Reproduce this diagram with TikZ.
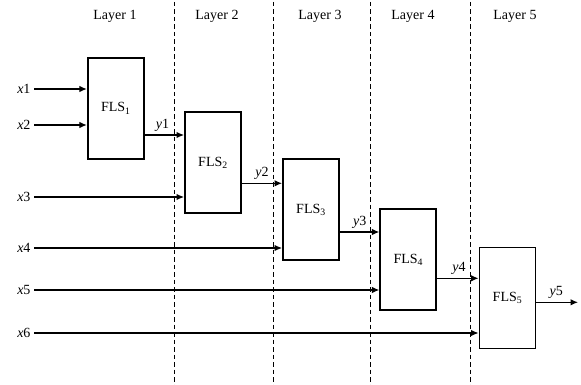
\documentclass[tikz,border=0pt]{standalone}
\usepackage{fontspec}
\setmainfont{Liberation Serif}
\usetikzlibrary{arrows.meta}

\tikzset{
  flsbox/.style={draw, line width=1.9pt, minimum width=56pt, minimum height=101pt, inner sep=0pt},
  sig/.style={line width=1.2pt, -{Latex[length=7.5pt,width=6.5pt]}},
  sep/.style={dashed, line width=1pt, dash pattern=on 4.5pt off 3pt},
  lbl/.style={font=\fontsize{14}{16}\selectfont}
}

\begin{document}
\begin{tikzpicture}[x=1pt,y=-1pt,lbl]
  \useasboundingbox (0,0) rectangle (581,385);

  % layer separators
  \foreach \sx in {174.7,273,370,470.7}
    \draw[sep] (\sx,2) -- (\sx,385);

  % layer titles
  \node at (115,16) {Layer 1};
  \node at (217,16) {Layer 2};
  \node at (320,16) {Layer 3};
  \node at (413,16) {Layer 4};
  \node at (515,16) {Layer 5};

  % fuzzy logic systems
  \node[flsbox] (fls1) at (115.8,108.3) {FLS\textsubscript{1}};
  \node[flsbox] (fls2) at (213,162.7) {FLS\textsubscript{2}};
  \node[flsbox] (fls3) at (311,209.7) {FLS\textsubscript{3}};
  \node[flsbox] (fls4) at (408.3,259.8) {FLS\textsubscript{4}};
  \node[flsbox] (fls5) at (507.5,298) {FLS\textsubscript{5}};

  % inputs
  \node[anchor=east] (x1) at (34,89) {\textit{x}1};
  \node[anchor=east] (x2) at (34,125) {\textit{x}2};
  \node[anchor=east] (x3) at (34,197) {\textit{x}3};
  \node[anchor=east] (x4) at (34,248) {\textit{x}4};
  \node[anchor=east] (x5) at (34,290) {\textit{x}5};
  \node[anchor=east] (x6) at (34,333) {\textit{x}6};

  \draw[sig] (x1) -- (x1 -| fls1.west);
  \draw[sig] (x2) -- (x2 -| fls1.west);
  \draw[sig] (x3) -- (x3 -| fls2.west);
  \draw[sig] (x4) -- (x4 -| fls3.west);
  \draw[sig] (x5) -- (x5 -| fls4.west);
  \draw[sig] (x6) -- (x6 -| fls5.west);

  % outputs
  \coordinate (o1) at (0,135);
  \coordinate (o2) at (0,183.3);
  \coordinate (o3) at (0,232);
  \coordinate (o4) at (0,278.3);
  \coordinate (o5) at (0,302.3);
  \coordinate (end) at (578,302.3);

  \draw[sig] (o1 -| fls1.east) -- (o1 -| fls2.west) node[midway,above,xshift=-2pt] {\textit{y}1};
  \draw[sig] (o2 -| fls2.east) -- (o2 -| fls3.west) node[midway,above] {\textit{y}2};
  \draw[sig] (o3 -| fls3.east) -- (o3 -| fls4.west) node[midway,above] {\textit{y}3};
  \draw[sig] (o4 -| fls4.east) -- (o4 -| fls5.west) node[midway,above,xshift=1pt] {\textit{y}4};
  \draw[sig] (o5 -| fls5.east) -- (end) node[midway,above,xshift=-1pt] {\textit{y}5};
\end{tikzpicture}
\end{document}
